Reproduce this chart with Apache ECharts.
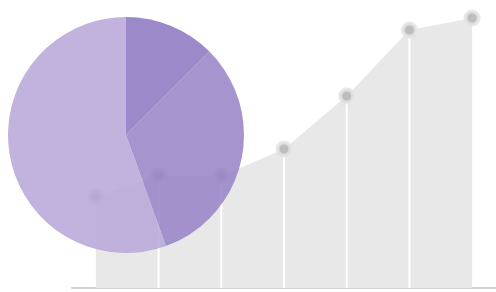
<!DOCTYPE html>
<html>
<head>
<meta charset="utf-8">
<script src="https://cdn.jsdelivr.net/npm/echarts@6/dist/echarts.min.js"></script>
<style>
  html, body { margin: 0; padding: 0; background: #fff; }
  #chart { width: 496px; height: 292px; }
</style>
</head>
<body>
<div id="chart"></div>
<script>
// area series: one point per step
const steps = [1, 2, 3, 4, 5, 6, 7]
const areaValues = [91, 112, 112, 139, 192, 258, 270]

// pie slices (clockwise from 12 o'clock)
const sliceNames = ['A', 'B', 'C']
const sliceValues = [12.5, 32, 55.5]
const sliceColors = ['#8a74bf', '#9781c6', '#b6a5d8']

const points = steps.map((s, i) => [s, areaValues[i]])
// white divider lines only between the outer edges
const dividers = steps.map((s, i) =>
  (i === 0 || i === steps.length - 1) ? [s, '-'] : [s, areaValues[i]])

const chart = echarts.init(document.getElementById('chart'))
chart.setOption({
  animation: false,
  grid: { left: 72, right: 0, top: 0, bottom: 4 },
  xAxis: {
    type: 'value',
    min: 0.619,
    max: 7.381,
    axisLine: { show: true, lineStyle: { color: '#d2d2d2', width: 2 } },
    axisTick: { show: false },
    axisLabel: { show: false },
    splitLine: { show: false }
  },
  yAxis: {
    type: 'value',
    min: 0,
    max: 288,
    show: false,
    splitLine: { show: false }
  },
  series: [{
    type: 'line',
    data: points,
    z: 2,
    symbol: 'none',
    lineStyle: { width: 0 },
    areaStyle: { color: '#e8e8e8', opacity: 1 }
  }, {
    type: 'bar',
    data: dividers,
    z: 3,
    barWidth: 2,
    itemStyle: { color: '#ffffff' }
  }, {
    type: 'line',
    data: points,
    z: 4,
    symbol: 'circle',
    symbolSize: 13,
    lineStyle: { width: 0 },
    itemStyle: {
      color: '#bdbdbd',
      borderColor: 'rgba(228,228,228,0.8)',
      borderWidth: 4
    }
  }, {
    type: 'pie',
    z: 5,
    center: [126, 135],
    radius: 118,
    startAngle: 90,
    clockwise: true,
    label: { show: false },
    labelLine: { show: false },
    itemStyle: { opacity: 0.85 },
    data: sliceNames.map((n, i) => ({
      name: n,
      value: sliceValues[i],
      itemStyle: { color: sliceColors[i] }
    }))
  }]
})
</script>
</body>
</html>
